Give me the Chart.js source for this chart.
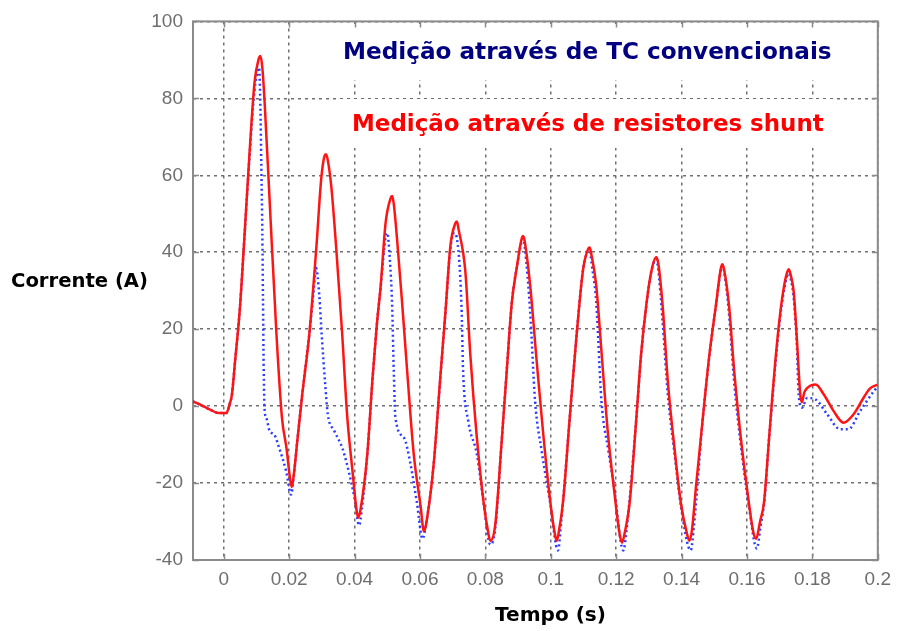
<!DOCTYPE html>
<html>
<head>
<meta charset="utf-8">
<script src="https://cdn.jsdelivr.net/npm/chart.js@4"></script>
<style>
  html, body { margin: 0; padding: 0; background: white; }
  #grafico_corrente { display: block; }
</style>
</head>
<body>
<canvas id="grafico_corrente" width="899" height="631"></canvas>
<script>
// ticks do eixo x (s) e do eixo y (A)
var ticks_tempo = [0, 0.02, 0.04, 0.06, 0.08, 0.1, 0.12, 0.14, 0.16, 0.18, 0.2];
var ticks_corrente = [-40, -20, 0, 20, 40, 60, 80, 100];

// medição através de resistores shunt (vermelho)
var tempo_shunt = [
  -0.0094, -0.007, -0.004, -0.0015, 0.0008, 0.0018, 0.0025, 0.0035, 0.0049, 0.0064, 0.0079, 0.0094, 0.0106, 0.0112, 0.0118,
  0.0125, 0.014, 0.0161, 0.0178, 0.0192, 0.0203, 0.0208, 0.0214, 0.0225, 0.024, 0.0262, 0.0283, 0.0298, 0.0308, 0.0313, 0.0318,
  0.0329, 0.0344, 0.0362, 0.0377, 0.0395, 0.0406, 0.0411, 0.0418, 0.0439, 0.0455, 0.0468, 0.048, 0.0495, 0.051, 0.0515, 0.052,
  0.053, 0.0546, 0.0561, 0.0581, 0.0602, 0.0612, 0.0622, 0.0642, 0.0662, 0.0678, 0.0693, 0.0708, 0.0713, 0.0718,
  0.0739, 0.0754, 0.0774, 0.0795, 0.0809, 0.0815, 0.083, 0.085, 0.0866, 0.0881, 0.0896, 0.0911, 0.0916, 0.0921,
  0.0937, 0.0957, 0.0977, 0.0998, 0.1012, 0.1018, 0.1024, 0.1038, 0.1058, 0.1079, 0.1099, 0.1114, 0.1119, 0.1124,
  0.1139, 0.1155, 0.1175, 0.1195, 0.121, 0.1218, 0.1226, 0.1241, 0.1261, 0.1276, 0.1292, 0.1307, 0.1322, 0.1328,
  0.1342, 0.1358, 0.1378, 0.1398, 0.1416, 0.1424, 0.1432, 0.1444, 0.1464, 0.1485, 0.1505, 0.152, 0.1525, 0.153,
  0.1545, 0.1561, 0.1581, 0.1606, 0.162, 0.1628, 0.164, 0.1652, 0.1667, 0.1677, 0.1687, 0.17, 0.1713, 0.1723, 0.1728, 0.1734,
  0.1743, 0.1753, 0.1763, 0.1768, 0.1775, 0.1784, 0.181, 0.1835, 0.1865, 0.1895, 0.1926, 0.1956, 0.1975, 0.2
];
var corrente_shunt = [
  1.2, 0.3, -1.0, -1.8, -1.8, 0.5, 3, 12, 25, 45, 66, 84, 90, 91, 88,
  79, 54, 19, -3, -11, -19, -21, -18, -9, 3, 19, 41, 59, 65, 65.5, 64,
  57, 41, 19, -2, -18, -27, -29, -27, -12.5, 7.3, 21, 31.4, 47.7, 54, 54.6, 52.5,
  43.4, 26.2, 9, -12.5, -26, -32.5, -29, -15, 7.3, 24.5, 41.6, 47.5, 48, 46,
  34.8, 13.3, -8.2, -25.3, -33, -35, -31, -9, 9.9, 27, 36, 43.5, 44.2, 42.5,
  31.4, 11.6, -7.3, -24.5, -33, -35, -33, -24.5, -3, 18.5, 35.6, 40.8, 41.2, 39.5,
  31.4, 14.2, -7.3, -22.8, -33, -35.5, -33, -25.3, -3.9, 13.3, 26.2, 34.8, 38.7, 37.5,
  26.2, 6.4, -10.7, -25.3, -33, -35, -32, -21, -3.9, 13.3, 26.2, 35.8, 36.9, 35.5,
  26.2, 9, -8.2, -25.3, -33, -34.5, -30, -25, -9, 2, 12, 23, 31, 34.8, 35.6, 34,
  29.6, 16.8, 3, 1, 3.5, 4.7, 5.6, 3, -1.3, -4.3, -2.1, 2.1, 4.5, 5.6
];

// medição através de TC convencionais (azul pontilhado)
var tempo_tc = [
  -0.0094, -0.007, -0.004, -0.0015, 0.0008, 0.0018, 0.0025, 0.0035, 0.0049, 0.0064, 0.0079, 0.0094, 0.0104, 0.0108, 0.0112,
  0.0115, 0.0118, 0.012, 0.0122, 0.0125, 0.013, 0.014, 0.0155, 0.017, 0.0191, 0.0206, 0.0213, 0.0225, 0.024, 0.0262, 0.0275, 0.0282,
  0.0292, 0.03, 0.031, 0.0318, 0.0338, 0.0363, 0.0384, 0.04, 0.0414, 0.0422, 0.0439, 0.0455, 0.0468, 0.048, 0.0495, 0.05,
  0.0508, 0.0515, 0.052, 0.0525, 0.0551, 0.0571, 0.0591, 0.0608, 0.0618, 0.0642, 0.0662, 0.0678, 0.0693, 0.0705, 0.0712,
  0.0727, 0.0732, 0.0748, 0.0774, 0.0795, 0.0815, 0.083, 0.085, 0.0866, 0.0881, 0.0896, 0.0916, 0.0921,
  0.0937, 0.0952, 0.0972, 0.0998, 0.1022, 0.1032, 0.1058, 0.1079, 0.1099, 0.1119, 0.1125,
  0.1139, 0.1155, 0.1175, 0.1192, 0.1222, 0.1232, 0.1261, 0.1276, 0.1292, 0.1307, 0.1322, 0.1328,
  0.1342, 0.1358, 0.1378, 0.1398, 0.1428, 0.1438, 0.1464, 0.1485, 0.1505, 0.1525, 0.1532,
  0.1545, 0.1561, 0.1581, 0.1606, 0.163, 0.1642, 0.1654, 0.1667, 0.1677, 0.1687, 0.17, 0.1713, 0.1728, 0.1734,
  0.1743, 0.1753, 0.1758, 0.1768, 0.1784, 0.181, 0.1845, 0.1885, 0.191, 0.1946, 0.1992, 0.2
];
var corrente_tc = [
  1.2, 0.3, -1.0, -1.8, -1.8, 0.5, 3, 12, 25, 45, 65, 82, 87, 88, 78,
  62, 45, 28, 11, -1, -3, -6.4, -7.5, -11, -17, -23, -19, -9, 3, 19, 30, 36,
  29, 18, 6, -2, -6.4, -11, -17.6, -24, -31, -27, -12.5, 7, 21, 31, 44, 45,
  38, 26, 9, -3, -8.2, -15, -25.3, -34.5, -31, -15, 7, 24.5, 41, 45, 44,
  26, 9, -4, -12.5, -25.3, -36, -32, -9, 10, 27, 36, 43.5, 41,
  24.5, 1.3, -11.6, -25, -37.5, -30, -3, 18.5, 35.6, 40.5, 37,
  27, 1.3, -11, -20, -37.5, -32, -4, 13, 26, 34.8, 38.2, 36,
  22, 3, -12, -26, -37.5, -31, -4, 13, 26, 36.5, 34,
  24, 6, -10, -26, -37, -31, -24, -9, 1, 11, 22, 30, 34.5, 33,
  28, 15, 3, -0.4, 2.1, 1.7, -2.1, -6, -6, -1.3, 4.3, 5
];

var textos_medicao = ["Medição através de TC convencionais", "Medição através de resistores shunt"];
var titulo_y = "Corrente (A)";
var titulo_x = "Tempo (s)";

function juntar(xs, ys) {
  var pontos = [];
  for (var i = 0; i < xs.length; i++) {
    pontos.push({ x: xs[i], y: ys[i] });
  }
  return pontos;
}

// ajusta o tamanho da fonte para o texto ocupar a largura dada
function tamanho_fonte(ctx, texto, largura, fonte) {
  ctx.font = "bold 20px " + fonte;
  return 20 * largura / ctx.measureText(texto).width;
}

var moldura = {
  id: "moldura",
  beforeDatasetsDraw: function (chart) {
    var ctx = chart.ctx;
    var area = chart.chartArea;
    var sx = chart.scales.x;
    var sy = chart.scales.y;
    ctx.save();
    ctx.setLineDash([]);

    // caixas brancas atrás dos textos
    ctx.fillStyle = "white";
    ctx.fillRect(335, 24, 508, 56);
    ctx.fillRect(340, 99, 495, 49);

    // moldura dos eixos
    ctx.strokeStyle = "#8a8a8a";
    ctx.lineWidth = 2;
    ctx.strokeRect(area.left, area.top, area.right - area.left, area.bottom - area.top);

    // marcas internas dos ticks
    ctx.lineWidth = 1.5;
    ctx.beginPath();
    for (var i = 0; i < ticks_tempo.length; i++) {
      var px = Math.round(sx.getPixelForValue(ticks_tempo[i])) + 0.5;
      ctx.moveTo(px, area.bottom); ctx.lineTo(px, area.bottom - 6);
      ctx.moveTo(px, area.top); ctx.lineTo(px, area.top + 6);
    }
    for (var j = 0; j < ticks_corrente.length; j++) {
      var py = Math.round(sy.getPixelForValue(ticks_corrente[j])) + 0.5;
      ctx.moveTo(area.left, py); ctx.lineTo(area.left + 6, py);
      ctx.moveTo(area.right, py); ctx.lineTo(area.right - 6, py);
    }
    ctx.stroke();

    // textos das medições
    var fonte = "'DejaVu Sans', sans-serif";
    ctx.textBaseline = "middle";
    ctx.textAlign = "left";
    var t1 = tamanho_fonte(ctx, textos_medicao[0], 489, fonte);
    ctx.font = "bold " + t1 + "px " + fonte;
    ctx.fillStyle = "#000080";
    ctx.fillText(textos_medicao[0], 343, 53);
    var t2 = tamanho_fonte(ctx, textos_medicao[1], 472, fonte);
    ctx.font = "bold " + t2 + "px " + fonte;
    ctx.fillStyle = "#ff0000";
    ctx.fillText(textos_medicao[1], 352, 125);
    ctx.restore();
  },
  afterDraw: function (chart) {
    var ctx = chart.ctx;
    var fonte = "'DejaVu Sans', sans-serif";
    ctx.save();
    ctx.fillStyle = "black";
    ctx.textBaseline = "middle";
    ctx.textAlign = "left";
    var t = tamanho_fonte(ctx, titulo_y, 137, fonte);
    ctx.font = "bold " + t + "px " + fonte;
    ctx.fillText(titulo_y, 11, 282);
    t = tamanho_fonte(ctx, titulo_x, 111, fonte);
    ctx.font = "bold " + t + "px " + fonte;
    ctx.fillText(titulo_x, 495, 616);
    ctx.restore();
  },
};

const g_corrente = document.getElementById("grafico_corrente");

new Chart(g_corrente, {
  type: "line",
  data: {
    datasets: [
      {
        label: "Resistores shunt",
        data: juntar(tempo_shunt, corrente_shunt),
        borderColor: "#ff1414",
        borderWidth: 2.5,
        pointRadius: 0,
        cubicInterpolationMode: "monotone",
        order: 0,
      },
      {
        label: "TC convencionais",
        data: juntar(tempo_tc, corrente_tc),
        borderColor: "#2a3cff",
        borderWidth: 2.5,
        borderDash: [2, 3],
        pointRadius: 0,
        cubicInterpolationMode: "monotone",
        order: 1,
      },
    ],
  },
  options: {
    responsive: false,
    animation: false,
    layout: {
      padding: { left: 0, right: 18, top: 17, bottom: 0 },
    },
    plugins: {
      legend: { display: false },
      tooltip: { enabled: false },
    },
    scales: {
      x: {
        type: "linear",
        min: -0.0094,
        max: 0.2,
        afterBuildTicks: function (scale) {
          scale.ticks = ticks_tempo.map(function (v) { return { value: v }; });
        },
        afterFit: function (scale) {
          scale.height = 71;
        },
        ticks: {
          color: "#6e6e6e",
          font: { family: "'Liberation Sans', sans-serif", size: 19 },
          padding: 8,
          maxRotation: 0,
          autoSkip: false,
          callback: function (v) { return String(v); },
        },
        grid: {
          color: "#707070",
          lineWidth: 1.5,
          drawTicks: false,
        },
        border: { display: false, dash: [3, 4] },
      },
      y: {
        min: -40,
        max: 100,
        afterBuildTicks: function (scale) {
          scale.ticks = ticks_corrente.map(function (v) { return { value: v }; });
        },
        afterFit: function (scale) {
          scale.width = 193;
        },
        ticks: {
          color: "#6e6e6e",
          font: { family: "'Liberation Sans', sans-serif", size: 19 },
          padding: 10,
        },
        grid: {
          color: "#707070",
          lineWidth: 1.5,
          drawTicks: false,
        },
        border: { display: false, dash: [3, 4] },
      },
    },
  },
  plugins: [moldura],
});
</script>
</body>
</html>
